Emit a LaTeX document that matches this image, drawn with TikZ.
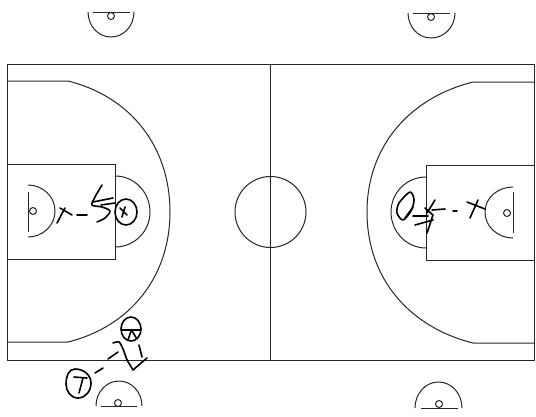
\documentclass[tikz,border=0pt]{standalone}
\usepackage{tikz}

\begin{document}
\begin{tikzpicture}[x=1pt,y=-1pt]
        % 선 스타일 정의
        \tikzset{courtline/.style={line width=1pt, black!85}}
        \tikzset{inkline/.style={line width=1.6pt, black, line cap=round, line join=round}}

        \useasboundingbox (0,0) rectangle (536,416);

        % 1. 코트 바깥선과 중앙선
        \draw[courtline] (7,64.5) rectangle (534,360.5);
        \draw[courtline] (270,64.5) -- (270,360.5);
        \draw[courtline] (270.5,212) circle (35.5);

        % 2. 왼쪽 코트
        \draw[courtline] (7,164) rectangle (115,259);
        \draw[courtline] (115,176) to[out=0,in=90] (150,212) to[out=-90,in=0] (115,247);
        \draw[courtline] (7,81) -- (68,81) to[out=-14,in=90] (170,212) to[out=-90,in=14] (68,342) -- (7,342);
        \draw[courtline] (28,185) to[out=0,in=90] (55,211) to[out=-90,in=0] (28,237);
        \draw[courtline] (28,192) -- (28,232);
        \draw[courtline] (33,211) circle (3.5);

        % 3. 오른쪽 코트
        \draw[courtline] (534,165) rectangle (426,260);
        \draw[courtline] (426,177) to[out=180,in=90] (391,212) to[out=-90,in=180] (426,248);
        \draw[courtline] (534,82) -- (473,82) to[out=-166,in=90] (367,212) to[out=-90,in=166] (473,343) -- (534,343);
        \draw[courtline] (513,187) to[out=180,in=90] (485,212) to[out=-90,in=180] (513,238);
        \draw[courtline] (513,192) -- (513,233);
        \draw[courtline] (507,213) circle (3.5);

        % 4. 코트 밖의 반원
        \draw[courtline] (88,12) to[out=-90,in=180] (111,37) to[out=0,in=-90] (134,12);
        \draw[courtline] (93,12) -- (130,12);
        \draw[courtline] (111,16) circle (3.5);
        \draw[courtline] (408,13) to[out=-90,in=180] (431,38) to[out=0,in=-90] (455,13);
        \draw[courtline] (413,13) -- (450,13);
        \draw[courtline] (431,17) circle (3.5);
        \draw[courtline] (96,406) to[out=90,in=180] (119,381) to[out=0,in=90] (142,406);
        \draw[courtline] (101,406) -- (137,406);
        \draw[courtline] (118,403) circle (3.5);
        \draw[courtline] (415,408) to[out=90,in=180] (438.5,382) to[out=0,in=90] (462,408);
        \draw[courtline] (421,408) -- (458,408);
        \draw[courtline] (439,404) circle (3.5);

        % 5. 왼쪽 손글씨
        \draw[inkline] (57,223) -- (65,208) (60,208) -- (72,215);
        \draw[inkline] (77,215) -- (87,215);
        \draw[inkline] plot[smooth] coordinates {(102,185) (95,197) (92,205) (102,207) (110,211) (105,218) (97,222)};
        \draw[inkline] (93,202) -- (113,198) (101,205) -- (115,203);
        \draw[inkline] (126,212) ellipse (11 and 13);
        \draw[inkline] (120,208) -- (127,215) (125,207) -- (122,217);

        % 6. 오른쪽 손글씨
        \draw[inkline] plot[smooth cycle] coordinates {(410,192) (399,203) (397,213) (403,220) (411,211) (414,200)};
        \draw[inkline] (413,207) -- (405,218);
        \draw[inkline] (413,216) -- (428,216) (415,225) -- (433,220);
        \draw[inkline] (425,208) -- (433,215) -- (427,233);
        \draw[inkline] (435,200) -- (427,213) (432,210) -- (445,209);
        \draw[inkline] (453,211) -- (457,211);
        \draw[inkline] (478,200) -- (470,218) (467,202) -- (485,209);

        % 7. 아래쪽 손글씨
        \draw[inkline] (131,329) ellipse (10 and 12);
        \draw[inkline] (122,330) -- (140,330) (131,331) -- (128,340) (132,331) -- (137,339);
        \draw[inkline] plot[smooth] coordinates {(113,343) (119,342) (123,349) (127,360)};
        \draw[inkline] (127,360) -- (133,370) -- (147,358);
        \draw[inkline] (118,352) -- (108,359);
        \draw[inkline] (139,345) -- (142,357);
        \draw[inkline] (95,373) -- (103,368);
        \draw[inkline] (75,369) to[out=180,in=90] (66,384) to[out=-90,in=180] (78,398) to[out=0,in=-90] (91,383) to[out=90,in=0] (75,369);
        \draw[inkline] (74,377) -- (87,378) (83,378) -- (79,393);
\end{tikzpicture}
\end{document}
